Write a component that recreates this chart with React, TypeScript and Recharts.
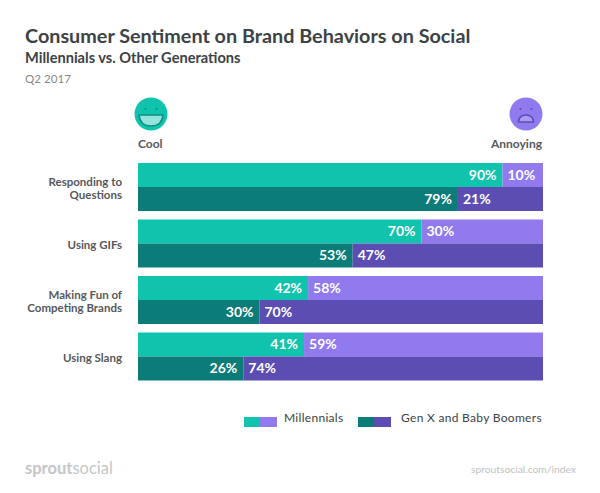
import React from 'react';
import { BarChart, Bar, XAxis, YAxis, LabelList } from 'recharts';

const categories = ['Responding to|Questions', 'Using GIFs', 'Making Fun of|Competing Brands', 'Using Slang'];
const millennialsCool = [90, 70, 42, 41];
const millennialsAnnoying = [10, 30, 58, 59];
const olderCool = [79, 53, 30, 26];
const olderAnnoying = [21, 47, 70, 74];

const data = categories.map((name, i) => ({
    name,
    millennialsCool: millennialsCool[i],
    millennialsAnnoying: millennialsAnnoying[i],
    olderCool: olderCool[i],
    olderAnnoying: olderAnnoying[i]
}));

const TEAL = '#10C3AD';
const PURPLE = '#9179EE';
const DARK_TEAL = '#0B7C78';
const DARK_PURPLE = '#5C4DB3';
const FONT = 'Lato, sans-serif';

const CategoryTick = ({ x, y, payload }: any) => {
    const lines = String(payload.value).split('|');
    const top = y - ((lines.length - 1) * 12.5) / 2;
    return (
        <text x={x} y={top} textAnchor="end" dominantBaseline="central" fontFamily={FONT} fontSize={11.5} fontWeight={700} fill="#55595c">
            {lines.map((line, i) => (
                <tspan key={line} x={x} y={top + i * 12.5}>{line}</tspan>
            ))}
        </text>
    );
};

const pct = (v: any) => `${v}%`;

const labelStyle = { fill: '#fff', fontFamily: FONT, fontSize: 14, fontWeight: 700 };

const abs = (left: number, top: number, extra: React.CSSProperties = {}): React.CSSProperties => ({
    position: 'absolute',
    left,
    top,
    fontFamily: FONT,
    whiteSpace: 'nowrap',
    ...extra
});

const Face = ({ cx, happy }: { cx: number; happy: boolean }) => {
    const line = happy ? '#0E8F86' : '#5C4DB3';
    return (
        <svg width={34} height={34} viewBox="0 0 34 34" style={{ position: 'absolute', left: cx - 17, top: 97 }}>
            <circle cx={17} cy={17} r={16.5} fill={happy ? TEAL : PURPLE} />
            <circle cx={11.5} cy={12} r={1} fill={line} />
            <circle cx={22.5} cy={12} r={1} fill={line} />
            {happy ? (
                <path d="M5 18 H29 Q28 29 17 29 Q6 29 5 18 Z" fill="#fff" fillOpacity={0.55} stroke={line} strokeWidth={1.6} />
            ) : (
                <path d="M9.5 25 Q10 18 17 18 Q24 18 24.5 25 Z" fill="#fff" fillOpacity={0.25} stroke={line} strokeWidth={1.6} />
            )}
        </svg>
    );
};

const Swatch = ({ left, a, b }: { left: number; a: string; b: string }) => (
    <div style={{ position: 'absolute', left, top: 417, width: 33, height: 10, background: `linear-gradient(to right, ${a} 0 50%, ${b} 50% 100%)` }} />
);

export default function App() {
    return (
        <div style={{ position: 'absolute', left: 0, top: 0, width: 600, height: 493, background: '#fff', overflow: 'hidden' }}>
            <div style={abs(25, 23, { fontSize: 19.8, fontWeight: 700, color: '#3c4245' })}>Consumer Sentiment on Brand Behaviors on Social</div>
            <div style={abs(25, 49, { fontSize: 14.6, fontWeight: 700, color: '#3c4245' })}>Millennials vs. Other Generations</div>
            <div style={abs(25, 72, { fontSize: 11.6, color: '#85898b' })}>Q2 2017</div>

            <Face cx={151} happy />
            <Face cx={526} happy={false} />
            <div style={abs(138, 136, { fontSize: 12, fontWeight: 700, color: '#55595c' })}>Cool</div>
            <div style={abs(491, 136, { fontSize: 12, fontWeight: 700, color: '#55595c' })}>Annoying</div>

            <div style={{ position: 'absolute', left: 0, top: 0 }}>
                <BarChart
                    width={600}
                    height={493}
                    data={data}
                    layout="vertical"
                    margin={{ top: 159, right: 57, bottom: 108, left: 0 }}
                    barCategoryGap={4}
                    barGap={0}
                >
                    <XAxis type="number" domain={[0, 100]} hide />
                    <YAxis
                        type="category"
                        dataKey="name"
                        width={138}
                        axisLine={false}
                        tickLine={false}
                        tickMargin={10}
                        interval={0}
                        tick={CategoryTick}
                    />
                    <Bar dataKey="millennialsCool" stackId="m" fill={TEAL} isAnimationActive={false}>
                        <LabelList dataKey="millennialsCool" position="insideRight" formatter={pct} offset={6} style={labelStyle} />
                    </Bar>
                    <Bar dataKey="millennialsAnnoying" stackId="m" fill={PURPLE} isAnimationActive={false}>
                        <LabelList dataKey="millennialsAnnoying" position="insideLeft" formatter={pct} offset={5} style={labelStyle} />
                    </Bar>
                    <Bar dataKey="olderCool" stackId="g" fill={DARK_TEAL} isAnimationActive={false}>
                        <LabelList dataKey="olderCool" position="insideRight" formatter={pct} offset={6} style={labelStyle} />
                    </Bar>
                    <Bar dataKey="olderAnnoying" stackId="g" fill={DARK_PURPLE} isAnimationActive={false}>
                        <LabelList dataKey="olderAnnoying" position="insideLeft" formatter={pct} offset={5} style={labelStyle} />
                    </Bar>
                </BarChart>
            </div>

            <Swatch left={244} a={TEAL} b={PURPLE} />
            <div style={abs(284, 410, { fontSize: 12, letterSpacing: 0.3, color: '#3c4245' })}>Millennials</div>
            <Swatch left={358} a={DARK_TEAL} b={DARK_PURPLE} />
            <div style={abs(401, 410, { fontSize: 12, letterSpacing: 0.3, color: '#3c4245' })}>Gen X and Baby Boomers</div>

            <div style={abs(25, 458, { fontSize: 16.5, color: '#c4c6c7' })}><b>sprout</b>social</div>
            <div style={abs(471, 463, { fontSize: 10.3, color: '#c0c2c3' })}>sproutsocial.com/index</div>
        </div>
    );
}
